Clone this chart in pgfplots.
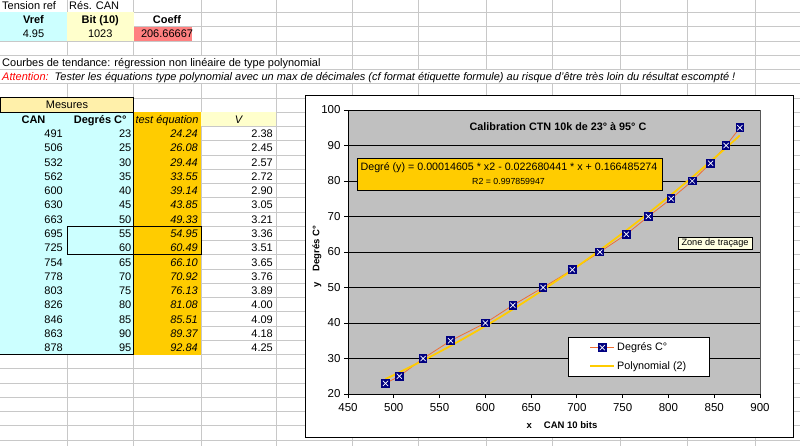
\documentclass[border=0pt]{standalone}
\usepackage{fontspec}
\setmainfont{Liberation Sans}
\usepackage{pgfplots}
\pgfplotsset{compat=1.18}
\definecolor{gridc}{RGB}{200,200,200}
\definecolor{xcyan}{RGB}{204,255,255}
\definecolor{xlyel}{RGB}{255,255,204}
\definecolor{xred}{RGB}{255,128,128}
\definecolor{xmes}{RGB}{255,240,170}
\definecolor{xorange}{RGB}{255,204,0}
\definecolor{plotgray}{RGB}{192,192,192}
\definecolor{navyb}{RGB}{0,0,128}
\definecolor{serline}{RGB}{240,110,50}
\definecolor{tipy}{RGB}{255,255,225}
\newcommand\fs{\fontsize{11}{12}\selectfont}
\newcommand\tfs{\fontsize{11.5}{12}\selectfont}
\pgfdeclareplotmark{sqx}{%
  \pgfpathrectangle{\pgfqpoint{-\pgfplotmarksize}{-\pgfplotmarksize}}{\pgfqpoint{2\pgfplotmarksize}{2\pgfplotmarksize}}%
  \pgfsetfillcolor{navyb}\pgfusepath{fill}%
  \pgfsetstrokecolor{white}\pgfsetlinewidth{0.7pt}%
  \pgfpathmoveto{\pgfqpoint{-0.6\pgfplotmarksize}{-0.6\pgfplotmarksize}}%
  \pgfpathlineto{\pgfqpoint{0.6\pgfplotmarksize}{0.6\pgfplotmarksize}}%
  \pgfpathmoveto{\pgfqpoint{-0.6\pgfplotmarksize}{0.6\pgfplotmarksize}}%
  \pgfpathlineto{\pgfqpoint{0.6\pgfplotmarksize}{-0.6\pgfplotmarksize}}%
  \pgfusepath{stroke}%
}
\begin{document}
\begin{tikzpicture}
\useasboundingbox (0,0) rectangle (800pt,-446pt);
\begin{scope}[x=1pt,y=-1pt,font=\fs]
\clip (0,0) rectangle (800,446);
\fill[white] (0,0) rectangle (800,446);
\foreach \xx in {67,133.5,201,276,352,418,486,552,620,687,755}
  \draw[gridc,line width=0.75pt] (\xx,0) -- (\xx,446);
\foreach \k in {1,...,32}
  \draw[gridc,line width=0.75pt] (0,{12.5+14.25*(\k-1)}) -- (800,{12.5+14.25*(\k-1)});
% overflow text hides vertical gridlines
\fill[white] (0,55.85) rectangle (351.5,68.9);
\fill[white] (0,70.1) rectangle (754.5,83.15);
% fills
\fill[xcyan] (0,12.5) rectangle (67,41);
\fill[xlyel] (67,12.5) rectangle (133.5,41);
\fill[xred] (133.5,27.5) rectangle (192,41);
\fill[xmes] (0,98) rectangle (133.5,112.25);
\draw[black,line width=1pt] (0,98) rectangle (133.5,112.25);
\fill[xcyan] (0,112.75) rectangle (133.5,354.5);
\fill[xorange] (133.5,112.25) rectangle (201,354.5);
\fill[xlyel] (201,112.25) rectangle (276,126.5);
\draw[black,line width=1pt] (0,354.5) -- (133.5,354.5) -- (133.5,112.25);
\draw[black,line width=1pt] (67,226.25) rectangle (201,254.75);
% texts
\node[anchor=base west,inner sep=0pt] at (2,9.5) {Tension ref};
\node[anchor=base west,inner sep=0pt] at (69,9.5) {Rés. CAN};
\node[anchor=base,inner sep=0pt,font=\fs\bfseries] at (33.5,23.75) {Vref};
\node[anchor=base,inner sep=0pt,font=\fs\bfseries] at (100.25,23.75) {Bit (10)};
\node[anchor=base,inner sep=0pt,font=\fs\bfseries] at (167,23.75) {Coeff};
\node[anchor=base,inner sep=0pt] at (33.5,38) {4.95};
\node[anchor=base,inner sep=0pt] at (100.25,38) {1023};
\node[anchor=base,inner sep=0pt] at (167,38) {206.66667};
\node[anchor=base west,inner sep=0pt] at (2,66.5) {Courbes de tendance: régression non linéaire de type polynomial};
\node[anchor=base west,inner sep=0pt] at (2,80.75) {\itshape{\color{red}Attention:}\hspace{6pt}Tester les équations type polynomial avec un max de décimales (cf format étiquette formule) au risque d'être très loin du résultat escompté !};
\node[anchor=base,inner sep=0pt] at (67,109) {Mesures};
\node[anchor=base,inner sep=0pt,font=\fs\bfseries] at (33.5,123.5) {CAN};
\node[anchor=base,inner sep=0pt,font=\fs\bfseries] at (100.25,123.5) {Degrés C°};
\node[anchor=base,inner sep=0pt,font=\fs\itshape] at (167,123.5) {test équation};
\node[anchor=base,inner sep=0pt,font=\fs\itshape] at (238.5,123.5) {V};
\foreach \rr/\a/\b/\c/\d in {10/491/23/24.24/2.38,11/506/25/26.08/2.45,12/532/30/29.44/2.57,13/562/35/33.55/2.72,14/600/40/39.14/2.90,15/630/45/43.85/3.05,16/663/50/49.33/3.21,17/695/55/54.95/3.36,18/725/60/60.49/3.51,19/754/65/66.10/3.65,20/778/70/70.92/3.76,21/803/75/76.13/3.89,22/826/80/81.08/4.00,23/846/85/85.51/4.09,24/863/90/89.37/4.18,25/878/95/92.84/4.25}{
  \node[anchor=base east,inner sep=0pt] at (63,{9.5+14.25*(\rr-1)}) {\a};
  \node[anchor=base east,inner sep=0pt] at (131.5,{9.5+14.25*(\rr-1)}) {\b};
  \node[anchor=base east,inner sep=0pt,font=\fs\itshape] at (198,{9.5+14.25*(\rr-1)}) {\c};
  \node[anchor=base east,inner sep=0pt] at (273,{9.5+14.25*(\rr-1)}) {\d};
}
% chart area
\fill[white] (305,96) rectangle (793,437);
\draw[black,line width=1pt] (305,96) rectangle (793,437);
\end{scope}
\begin{axis}[
  at={(348pt,-394pt)}, anchor=south west,
  scale only axis, width=412pt, height=284pt,
  xmin=450, xmax=900, ymin=20, ymax=100,
  xtick={450,500,...,900}, ytick={20,30,...,100},
  axis x line*=bottom, axis y line*=left,
  axis line style={black,line width=0.8pt},
  tick style={black,line width=0.8pt},
  tick align=outside, major tick length=4pt,
  ymajorgrids, grid style={black,line width=0.8pt},
  axis background/.style={fill=plotgray,draw=gray!70!black,line width=0.8pt},
  ticklabel style={font=\tfs},
  xticklabel style={yshift=-2pt},
  /pgf/number format/assume math mode=true,
  /pgf/number format/1000 sep={},
  legend style={at={(0.534,0.2007)}, anchor=north west, draw=black, fill=white,
    line width=0.8pt, font=\fontsize{10.8}{12}\selectfont,
    inner xsep=21pt, inner ysep=3.5pt, row sep=5pt},
  legend cell align=left,
  legend image code/.code={\draw[mark repeat=2,mark phase=2,#1] plot coordinates {(0pt,0pt) (12pt,0pt) (24pt,0pt)};},
]
\addplot[serline,line width=0.8pt,mark=sqx,mark size=4.3pt] coordinates {
(491,23) (506,25) (532,30) (562,35) (600,40) (630,45) (663,50) (695,55)
(725,60) (754,65) (778,70) (803,75) (826,80) (846,85) (863,90) (878,95)};
\addlegendentry{Degrés C°}
\addplot[xorange,line width=1.8pt,smooth,no marks] coordinates {
(491,24.24) (506,26.08) (532,29.44) (562,33.55) (600,39.14) (630,43.85) (663,49.33) (695,54.95)
(725,60.49) (754,66.10) (778,70.92) (803,76.13) (826,81.08) (846,85.51) (863,89.37) (878,92.84)};
\addlegendentry{Polynomial (2)}
\end{axis}
\begin{scope}[x=1pt,y=-1pt]
\node[font=\fontsize{10.8}{12}\selectfont\bfseries] at (558,127) {Calibration CTN 10k de 23° à 95° C};
\fill[xorange] (357,158) rectangle (662,190);
\draw[black,line width=0.8pt] (357,158) rectangle (662,190);
\node[font=\fontsize{10.7}{12}\selectfont] at (509,168) {Degré (y) = 0.00014605 * x2 - 0.022680441 * x + 0.166485274};
\node[font=\fontsize{8.8}{10}\selectfont] at (508.5,181) {R2 = 0.997859947};
\fill[tipy] (678,237) rectangle (752,249);
\draw[black,line width=0.6pt] (678,237) rectangle (752,249);
\node[font=\fontsize{9.2}{10}\selectfont] at (715,243) {Zone de traçage};
\node[font=\fontsize{9.5}{10}\selectfont\bfseries] at (562,425) {x\hspace{12pt}CAN 10 bits};
\node[font=\fontsize{9.5}{10}\selectfont\bfseries,rotate=90] at (317,257) {y\hspace{11pt}Degrés C°};
\end{scope}
\end{tikzpicture}
\end{document}
